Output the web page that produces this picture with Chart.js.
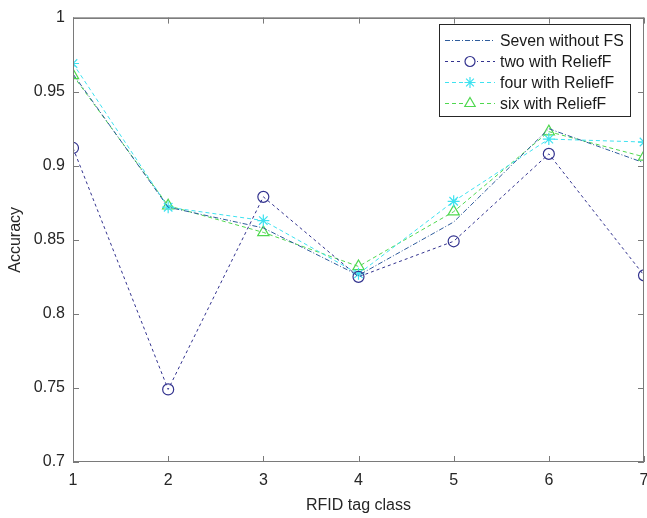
<!DOCTYPE html>
<html>
<head>
<meta charset="utf-8">
<script src="https://cdn.jsdelivr.net/npm/chart.js@4"></script>
<style>
  html, body { margin: 0; padding: 0; background: #fff; }
  #wrap { width: 647px; height: 518px; }
</style>
</head>
<body>
<div id="wrap"><canvas id="chart" width="647" height="518"></canvas></div>
<script>
// RFID tag classes on x, accuracy per feature set
const tagClasses = [1, 2, 3, 4, 5, 6, 7]
const sevenNoFS = [0.962, 0.872, 0.858, 0.826, 0.862, 0.925, 0.902]
const twoRelief = [0.912, 0.749, 0.879, 0.825, 0.849, 0.908, 0.826]
const fourRelief = [0.969, 0.872, 0.863, 0.827, 0.876, 0.918, 0.916]
const sixRelief = [0.961, 0.873, 0.855, 0.832, 0.869, 0.923, 0.906]
const seriesNames = ['Seven without FS', 'two with ReliefF', 'four with ReliefF', 'six with ReliefF']
const yTicks = [0.7, 0.75, 0.8, 0.85, 0.9, 0.95, 1]

const FONT = 'Liberation Sans, Arial, Helvetica, sans-serif'

function pts(vals) {
  return vals.map((v, i) => ({ x: tagClasses[i], y: v }))
}

const datasets = [
  { label: seriesNames[0], data: pts(sevenNoFS), borderColor: '#2f5c9c', borderDash: [5, 2, 1, 2], pointStyle: false, pointRadius: 0 },
  { label: seriesNames[1], data: pts(twoRelief), borderColor: '#33338f', borderDash: [3, 3], pointStyle: 'circle', pointRadius: 5.5 },
  { label: seriesNames[2], data: pts(fourRelief), borderColor: '#3ee2f0', borderDash: [4, 3], pointStyle: 'star', pointRadius: 6 },
  { label: seriesNames[3], data: pts(sixRelief), borderColor: '#4fd84f', borderDash: [4, 3], pointStyle: 'triangle', pointRadius: 6.5 },
].map((d) => ({
  ...d,
  borderWidth: 1,
  backgroundColor: 'rgba(0,0,0,0)',
  pointBorderColor: d.borderColor,
  pointBackgroundColor: 'rgba(0,0,0,0)',
  pointBorderWidth: 1.2,
  tension: 0,
  fill: false,
}))

// box around the axes plus MATLAB style inward ticks
const axesBox = {
  id: 'axesBox',
  afterDraw(chart) {
    const { ctx, chartArea: a, scales } = chart
    ctx.save()
    ctx.lineWidth = 1
    ctx.strokeStyle = '#262626'
    ctx.beginPath()
    ctx.moveTo(a.left, a.top + 0.5)
    ctx.lineTo(a.right, a.top + 0.5)
    ctx.stroke()
    ctx.strokeStyle = '#7a7a7a'
    ctx.beginPath()
    ctx.moveTo(a.left + 0.5, a.top)
    ctx.lineTo(a.left + 0.5, a.bottom)
    ctx.moveTo(a.left, a.bottom - 0.5)
    ctx.lineTo(a.right, a.bottom - 0.5)
    ctx.moveTo(a.right - 0.5, a.top)
    ctx.lineTo(a.right - 0.5, a.bottom)
    ctx.stroke()
    ctx.beginPath()
    yTicks.forEach((t) => {
      const y = Math.round(scales.y.getPixelForValue(t)) + 0.5
      ctx.moveTo(a.left, y)
      ctx.lineTo(a.left + 6, y)
      ctx.moveTo(a.right, y)
      ctx.lineTo(a.right - 6, y)
    })
    tagClasses.forEach((t) => {
      const x = Math.round(scales.x.getPixelForValue(t)) + 0.5
      ctx.moveTo(x, a.bottom)
      ctx.lineTo(x, a.bottom - 6)
      ctx.moveTo(x, a.top)
      ctx.lineTo(x, a.top + 6)
    })
    ctx.stroke()
    ctx.restore()
  },
}

// legend box in the upper right of the plot
const boxLegend = {
  id: 'boxLegend',
  afterDraw(chart) {
    const { ctx } = chart
    const x0 = 439, y0 = 24, w = 191, h = 92
    ctx.save()
    ctx.fillStyle = '#fff'
    ctx.fillRect(x0, y0, w, h)
    ctx.strokeStyle = '#262626'
    ctx.lineWidth = 1
    ctx.strokeRect(x0 + 0.5, y0 + 0.5, w, h)
    ctx.font = '15.8px ' + FONT
    ctx.textBaseline = 'middle'
    chart.data.datasets.forEach((d, i) => {
      const y = y0 + 16.5 + i * 21
      ctx.strokeStyle = d.borderColor
      ctx.lineWidth = 1
      ctx.setLineDash(d.borderDash)
      ctx.beginPath()
      ctx.moveTo(x0 + 6, y)
      ctx.lineTo(x0 + 56, y)
      ctx.stroke()
      ctx.setLineDash([])
      if (d.pointStyle) {
        ctx.fillStyle = '#fff'
        ctx.fillRect(x0 + 24, y - 7, 14, 14)
        ctx.lineWidth = 1.2
        Chart.helpers.drawPoint(ctx, { pointStyle: d.pointStyle, radius: d.pointRadius - 0.5, borderWidth: 1.2, rotation: 0 }, x0 + 31, y)
      }
      ctx.fillStyle = '#1a1a1a'
      ctx.fillText(d.label, x0 + 61, y + 1)
    })
    ctx.restore()
  },
}

new Chart(document.getElementById('chart'), {
  type: 'line',
  data: { datasets },
  options: {
    responsive: false,
    animation: false,
    layout: { autoPadding: false, padding: { top: 13, right: 3, left: 0, bottom: 0 } },
    plugins: { legend: { display: false }, tooltip: { enabled: false } },
    scales: {
      x: {
        type: 'linear',
        min: 1,
        max: 7,
        offset: false,
        afterBuildTicks: (s) => { s.ticks = tagClasses.map((v) => ({ value: v })) },
        afterFit: (s) => { s.height = 56; s.paddingRight = 0; s.paddingLeft = 0 },
        grid: { display: false, drawTicks: false },
        border: { display: false },
        ticks: { padding: 9, color: '#262626', font: { family: FONT, size: 16 }, maxRotation: 0, callback: (v) => String(v) },
        title: { display: true, text: 'RFID tag class', color: '#262626', font: { family: FONT, size: 16 }, padding: { bottom: 3 } },
      },
      y: {
        min: 0.7,
        max: 1,
        afterBuildTicks: (s) => { s.ticks = yTicks.map((v) => ({ value: v })) },
        afterFit: (s) => { s.width = 73 },
        grid: { display: false, drawTicks: false },
        border: { display: false },
        ticks: { padding: 8, color: '#262626', font: { family: FONT, size: 16 }, callback: (v) => String(+v.toFixed(2)) },
        title: { display: true, text: 'Accuracy', color: '#262626', font: { family: FONT, size: 16 }, padding: { top: 6 } },
      },
    },
  },
  plugins: [axesBox, boxLegend],
})
</script>
</body>
</html>
